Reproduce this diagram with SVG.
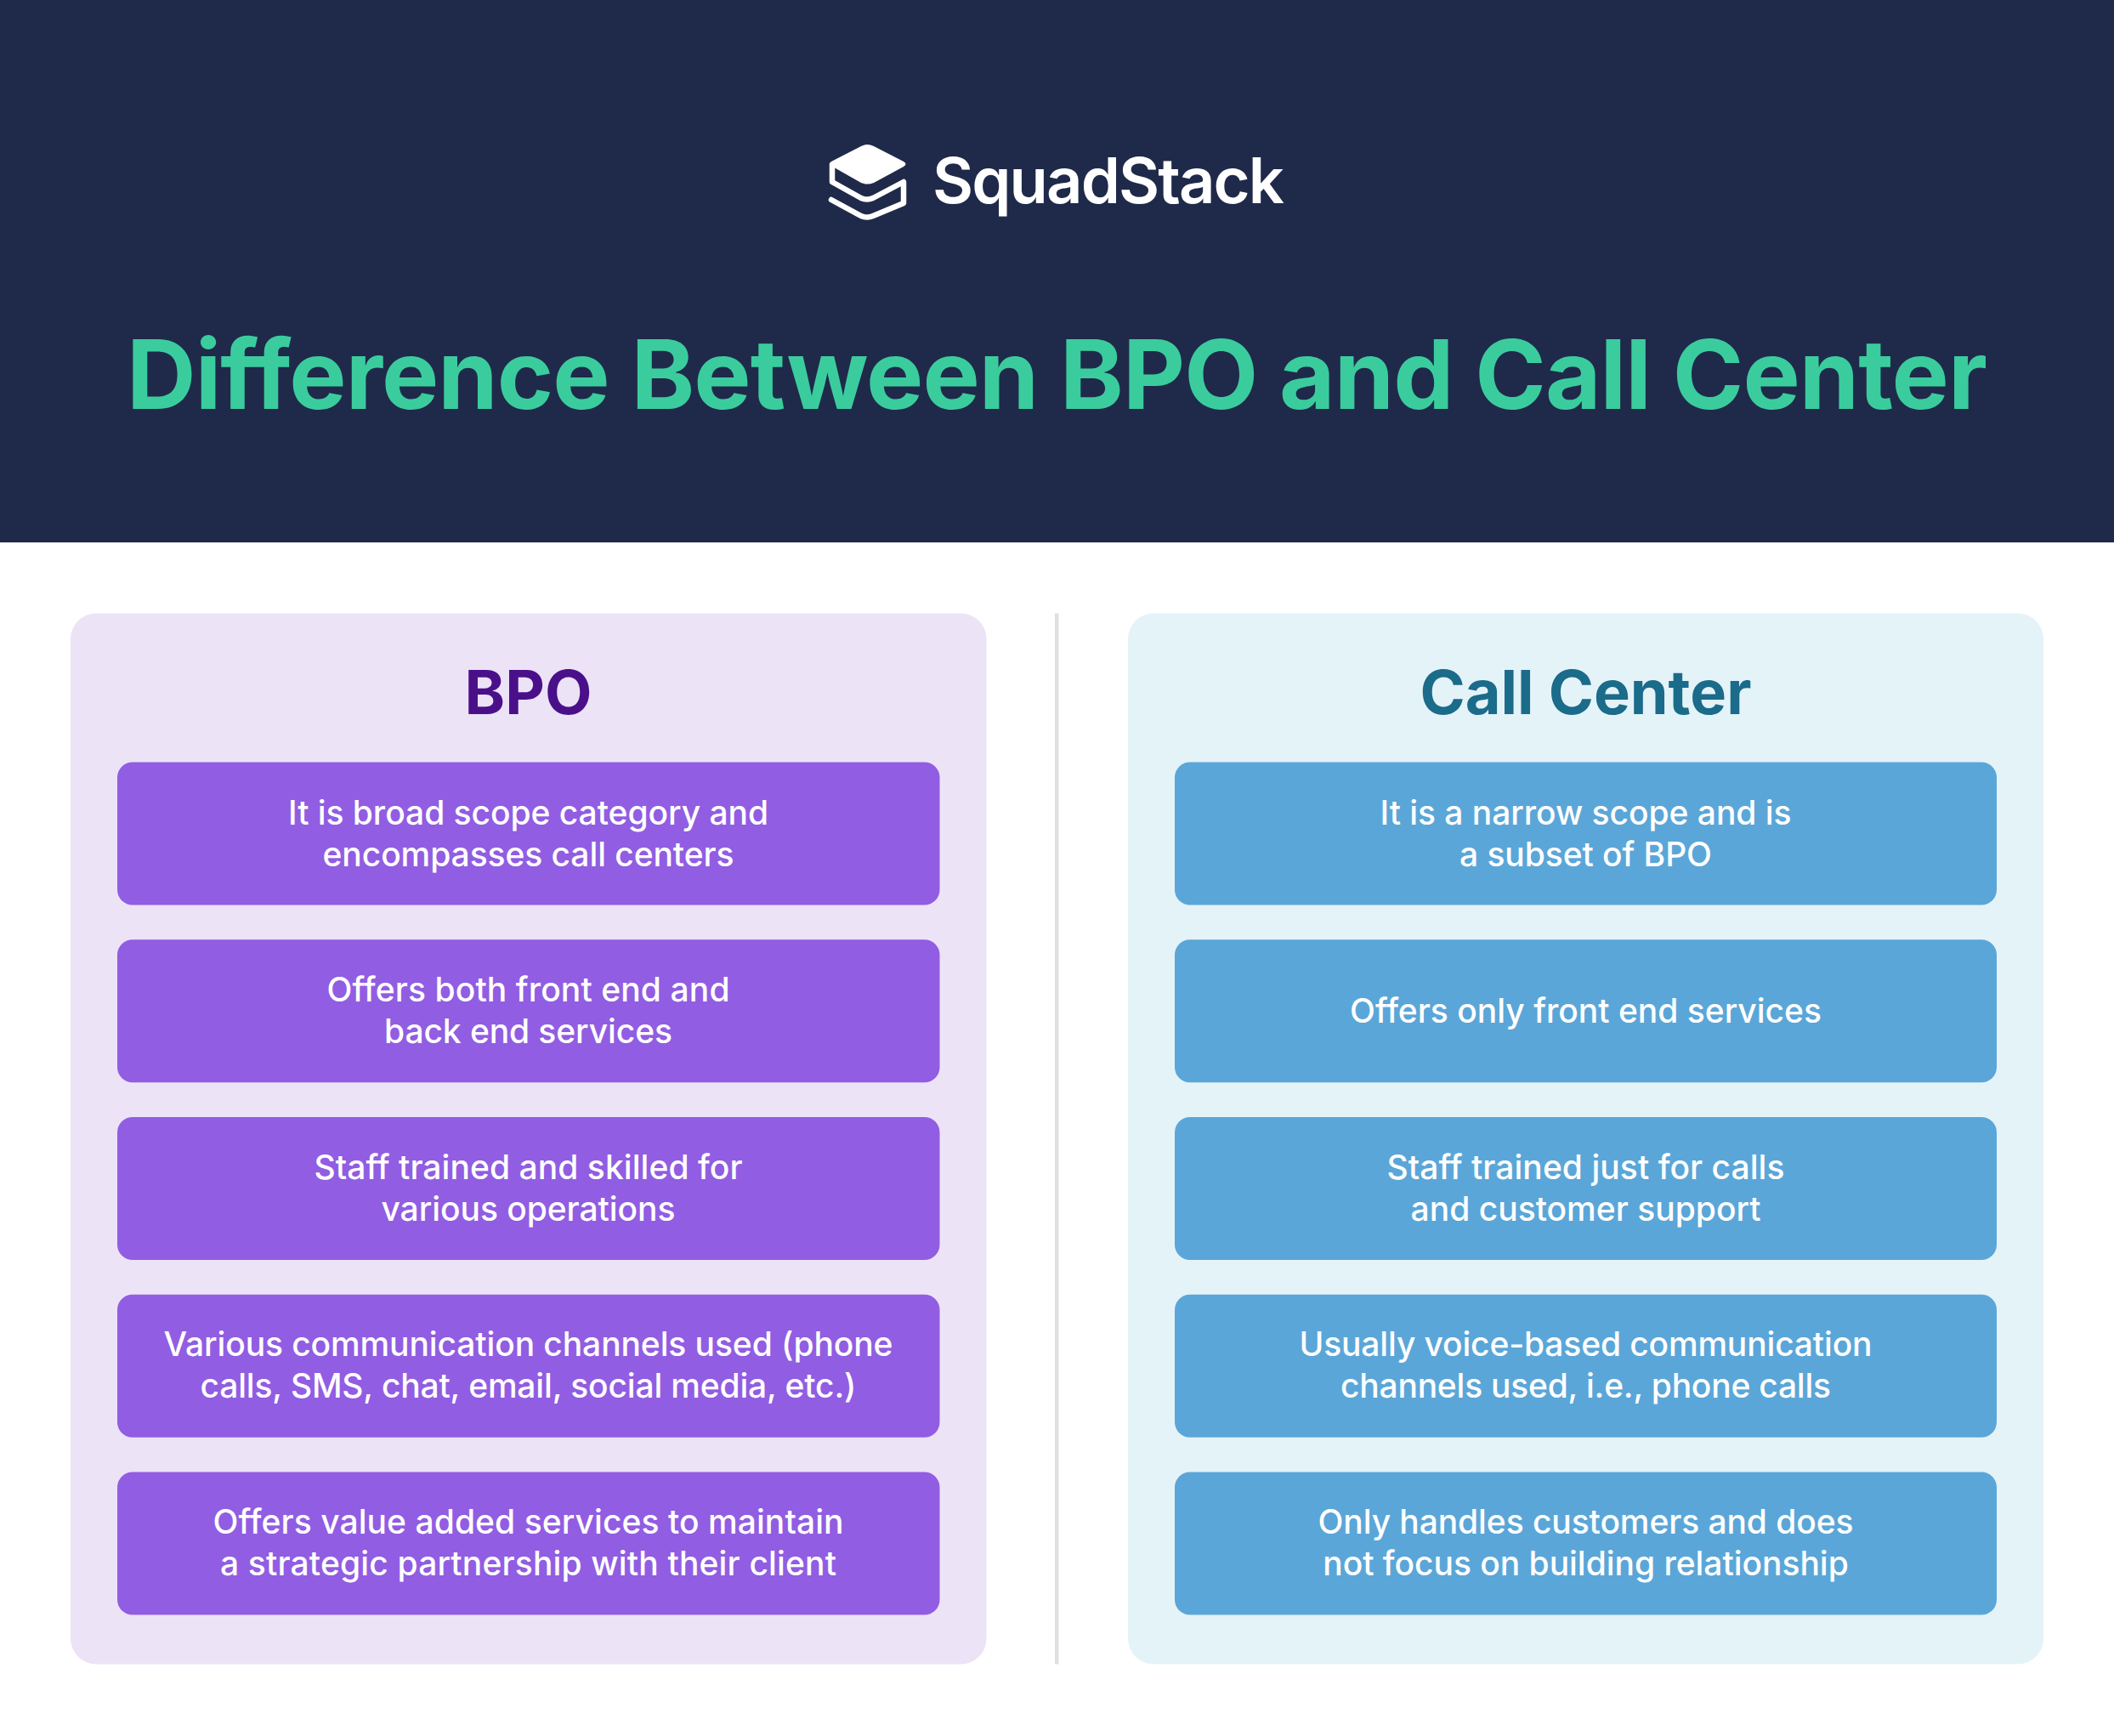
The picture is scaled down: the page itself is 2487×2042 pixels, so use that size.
<svg xmlns="http://www.w3.org/2000/svg" width="2487" height="2042" viewBox="0 0 2487 2042">
<style>
text{font-family:Inter,"Liberation Sans",sans-serif;text-anchor:middle;font-variant-ligatures:none;font-feature-settings:"calt" 0,"liga" 0}
.c{font-size:39px;font-weight:470;fill:#fff}
.h{font-size:72px;font-weight:700}
.p{fill:#915de2}.b{fill:#5ba6d8}
</style>
<rect width="2487" height="2042" fill="#fff"/>
<g id="header">
<rect width="2487" height="638" fill="#1f2a4a"/>
<g id="logo">
<path d="M1013,172 Q1020,168 1028,172 L1063,190 Q1068,193 1063,196 L1028,215 Q1020,218 1013,215 L976,194 Q975,192 978,190 Z" fill="#fff"/>
<path d="M979,194 V214 L1013,233 Q1020,236 1027,233 L1063,214 V239 L1027,254 Q1020,257 1013,254 L978,235" fill="none" stroke="#fff" stroke-width="6.5" stroke-linecap="round" stroke-linejoin="round"/>
</g>
<text x="1304" y="239" style="font-size:74px;font-weight:600" fill="#fff" textLength="414">SquadStack</text>
<text x="1243.5" y="481" style="font-size:113px;font-weight:730" fill="#3bcc9e" textLength="2189">Difference Between BPO and Call Center</text>
</g>
<rect id="divider" x="1241" y="721.5" width="4.5" height="1236" fill="#e0e0e0"/>
<g id="bpo-panel"><rect x="83" y="721.5" width="1077.5" height="1236" rx="30" fill="#ece3f7"/><text class="h" x="621.5" y="840" fill="#4a108a">BPO</text></g>
<g id="bpo-1"><rect class="p" x="138" y="896.5" width="967.5" height="168" rx="18"/><text class="c" x="621.5" y="969.6" textLength="565">It is broad scope category and</text><text class="c" x="621.5" y="1018.6" textLength="484">encompasses call centers</text></g>
<g id="bpo-2"><rect class="p" x="138" y="1105.25" width="967.5" height="168" rx="18"/><text class="c" x="621.5" y="1178.4" textLength="474">Offers both front end and</text><text class="c" x="621.5" y="1227.4" textLength="339">back end services</text></g>
<g id="bpo-3"><rect class="p" x="138" y="1314" width="967.5" height="168" rx="18"/><text class="c" x="621.5" y="1387.3" textLength="504">Staff trained and skilled for</text><text class="c" x="621.5" y="1436.3" textLength="346">various operations</text></g>
<g id="bpo-4"><rect class="p" x="138" y="1522.75" width="967.5" height="168" rx="18"/><text class="c" x="621.5" y="1595.4" textLength="858">Various communication channels used (phone</text><text class="c" x="621.5" y="1644.4" textLength="772">calls, SMS, chat, email, social media, etc.)</text></g>
<g id="bpo-5"><rect class="p" x="138" y="1731.5" width="967.5" height="168" rx="18"/><text class="c" x="621.5" y="1804.4" textLength="742">Offers value added services to maintain</text><text class="c" x="621.5" y="1853.4" textLength="725">a strategic partnership with their client</text></g>
<g id="cc-panel"><rect x="1327" y="721.5" width="1077" height="1236" rx="30" fill="#e4f3f8"/><text class="h" x="1865.5" y="840" fill="#1b6b8a">Call Center</text></g>
<g id="cc-1"><rect class="b" x="1382" y="896.5" width="967" height="168" rx="18"/><text class="c" x="1865.5" y="969.6" textLength="484">It is a narrow scope and is</text><text class="c" x="1865.5" y="1018.6" textLength="297">a subset of BPO</text></g>
<g id="cc-2"><rect class="b" x="1382" y="1105.25" width="967" height="168" rx="18"/><text class="c" x="1865.5" y="1203" textLength="555">Offers only front end services</text></g>
<g id="cc-3"><rect class="b" x="1382" y="1314" width="967" height="168" rx="18"/><text class="c" x="1865.5" y="1387.3" textLength="468">Staff trained just for calls</text><text class="c" x="1865.5" y="1436.3" textLength="412">and customer support</text></g>
<g id="cc-4"><rect class="b" x="1382" y="1522.75" width="967" height="168" rx="18"/><text class="c" x="1865.5" y="1595.4" textLength="674">Usually voice-based communication</text><text class="c" x="1865.5" y="1644.4" textLength="577">channels used, i.e., phone calls</text></g>
<g id="cc-5"><rect class="b" x="1382" y="1731.5" width="967" height="168" rx="18"/><text class="c" x="1865.5" y="1804.4" textLength="630">Only handles customers and does</text><text class="c" x="1865.5" y="1853.4" textLength="618.5">not focus on building relationship</text></g>
</svg>
